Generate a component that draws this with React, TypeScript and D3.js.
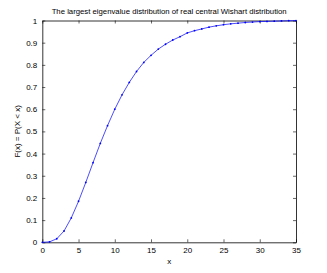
import { axisBottom, axisLeft, axisRight, axisTop, line, scaleLinear, select } from 'd3';
import React, { useEffect, useRef } from 'react';

// x values 0..35 and the CDF
const xs = [
  0, 1, 2, 3, 4, 5, 6, 7, 8, 9, 10, 11, 12, 13, 14, 15, 16, 17, 18, 19, 20, 21, 22, 23, 24, 25,
  26, 27, 28, 29, 30, 31, 32, 33, 34, 35,
];
const cdf = [
  0, 0.002, 0.016, 0.051, 0.11, 0.185, 0.27, 0.359, 0.446, 0.526, 0.6, 0.665, 0.721, 0.77,
  0.811, 0.843, 0.871, 0.893, 0.912, 0.927, 0.944, 0.954, 0.962, 0.97, 0.976, 0.981, 0.985,
  0.988, 0.991, 0.993, 0.995, 0.996, 0.997, 0.998, 0.999, 0.9995,
];
const xTicks = [0, 5, 10, 15, 20, 25, 30, 35];
const yTicks = [0, 0.1, 0.2, 0.3, 0.4, 0.5, 0.6, 0.7, 0.8, 0.9, 1];

const title = 'The largest eigenvalue distribution of real central Wishart distribution';
const xLabel = 'x';
const yLabel = 'F(x) = P(X < x)';

const W = 327;
const H = 273;
const m = { left: 42.3, right: 296, top: 20.5, bottom: 242.3 };
const font = '"Liberation Sans", Arial, sans-serif';

const App: React.FC = () => {
  const svgRef = useRef<SVGSVGElement>(null);

  useEffect(() => {
    const svg = select(svgRef.current);
    svg.selectAll('*').remove();

    const x = scaleLinear().domain([0, 35]).range([m.left, m.right]);
    const y = scaleLinear().domain([0, 1]).range([m.bottom, m.top]);
    const pw = m.right - m.left;
    const ph = m.bottom - m.top;

    // Axes (MATLAB style, ticks inside on all four sides)
    const styleAxis = (g: any) => {
      g.select('.domain').attr('stroke', '#000').attr('stroke-width', 0.8);
      g.selectAll('.tick line').attr('stroke', '#000').attr('stroke-width', 0.6);
      g.selectAll('text')
        .attr('fill', '#000')
        .style('font-family', font)
        .style('font-size', '8px');
    };

    svg
      .append('g')
      .attr('transform', `translate(0,${m.bottom})`)
      .call(axisBottom(x).tickValues(xTicks).tickSizeInner(-3).tickSizeOuter(0).tickPadding(5))
      .call(styleAxis);
    svg
      .append('g')
      .attr('transform', `translate(${m.left},0)`)
      .call(
        axisLeft(y)
          .tickValues(yTicks)
          .tickFormat((d) => String(+(+d).toFixed(1)))
          .tickSizeInner(-3)
          .tickSizeOuter(0)
          .tickPadding(5),
      )
      .call(styleAxis);
    svg
      .append('g')
      .attr('transform', `translate(0,${m.top})`)
      .call(axisTop(x).tickValues(xTicks).tickSizeInner(-3).tickSizeOuter(0).tickFormat(() => ''))
      .call(styleAxis);
    svg
      .append('g')
      .attr('transform', `translate(${m.right},0)`)
      .call(axisRight(y).tickValues(yTicks).tickSizeInner(-3).tickSizeOuter(0).tickFormat(() => ''))
      .call(styleAxis);

    const pts = xs.map((v, i) => [v, cdf[i]] as [number, number]);

    svg
      .append('path')
      .datum(pts)
      .attr('fill', 'none')
      .attr('stroke', '#0000ff')
      .attr('stroke-width', 0.7)
      .attr('d', line<[number, number]>().x((d) => x(d[0])).y((d) => y(d[1])));

    svg
      .selectAll('.dot')
      .data(pts)
      .join('circle')
      .attr('class', 'dot')
      .attr('cx', (d) => x(d[0]))
      .attr('cy', (d) => y(d[1]))
      .attr('r', 0.9)
      .attr('fill', '#0000ff');

    // Labels
    svg
      .append('text')
      .attr('x', (m.left + m.right) / 2)
      .attr('y', 14)
      .attr('text-anchor', 'middle')
      .attr('textLength', 235)
      .attr('lengthAdjust', 'spacingAndGlyphs')
      .style('font-family', font)
      .style('font-size', '8px')
      .text(title);

    svg
      .append('text')
      .attr('x', m.left + pw / 2)
      .attr('y', 264)
      .attr('text-anchor', 'middle')
      .style('font-family', font)
      .style('font-size', '8px')
      .text(xLabel);

    svg
      .append('text')
      .attr('transform', `translate(20,${m.top + ph / 2}) rotate(-90)`)
      .attr('text-anchor', 'middle')
      .style('font-family', font)
      .style('font-size', '8px')
      .text(yLabel);
  }, []);

  return (
    <svg
      ref={svgRef}
      width={W}
      height={H}
      style={{ position: 'absolute', left: 0, top: 0, background: '#fff' }}
    />
  );
};

export default App;
